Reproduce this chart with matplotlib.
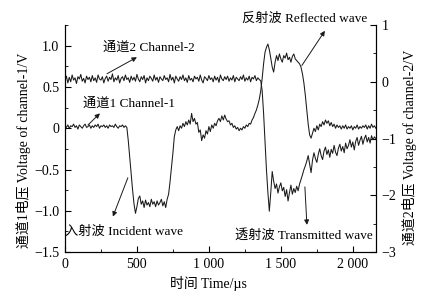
import numpy as np
import matplotlib
matplotlib.use("Agg")
import matplotlib.pyplot as plt
from matplotlib.ticker import MultipleLocator

T_STEP = 10  # us

# channel 1, left axis (V)
ch1 = [
    # 0 - 420 us : baseline
    0.03, 0.01, 0.04, 0.00, 0.03, 0.02, 0.05, 0.01, 0.03, -0.01,
    0.04, 0.02, 0.00, 0.03, 0.05, 0.01, 0.02, 0.04, 0.00, 0.03,
    0.01, 0.04, 0.02, 0.05, 0.00, 0.03, 0.02, 0.04, 0.01, 0.03,
    0.00, 0.04, 0.02, 0.03, 0.01, 0.05, 0.02, 0.00, 0.03, 0.02,
    0.04, 0.01, 0.03,
    # 430 - 490 us : incident front
    0.01, -0.15, -0.35, -0.55, -0.75, -0.92, -1.03,
    # 500 - 720 us : incident plateau
    -0.95, -0.85, -0.82, -0.92, -0.88, -0.96, -0.87, -0.93, -0.90, -0.95,
    -0.86, -0.92, -0.89, -0.95, -0.88, -0.93, -0.90, -0.86, -0.94, -0.89,
    -0.96, -0.86, -0.80,
    # 730 - 770 us
    -0.65, -0.48, -0.30, -0.10, -0.02,
    # 780 - 1360 us
    0.02, -0.03, 0.03, 0.00, 0.06, 0.02, 0.08, 0.04, 0.10, 0.05,
    0.18, 0.08, 0.12, 0.05, 0.07, -0.05, -0.02, -0.15, -0.08, -0.12,
    -0.03, -0.07, 0.02, -0.04, 0.04, 0.00, 0.06, 0.03, 0.09, 0.12,
    0.08, 0.15, 0.10, 0.16, 0.11, 0.08, 0.09, 0.04, 0.06, 0.01,
    0.03, -0.01, 0.01, -0.03, 0.00, -0.02, 0.02, 0.00, 0.04, 0.02,
    0.06, 0.05, 0.10, 0.13, 0.18, 0.22, 0.28, 0.35, 0.45,
    # 1370 - 1690 us : reflected wave
    0.60, 0.78, 0.92, 0.98, 1.02, 0.95, 0.85, 0.74, 0.68, 0.80,
    0.88, 0.82, 0.90, 0.84, 0.80, 0.88, 0.85, 0.91, 0.83, 0.86,
    0.80, 0.87, 0.90, 0.84, 0.82, 0.80, 0.78, 0.74, 0.66, 0.55,
    0.40, 0.22, 0.05,
    # 1700 - 2160 us
    -0.08, -0.12, -0.06, 0.00, -0.04, 0.03, -0.02, 0.05, 0.02, 0.08,
    0.04, 0.10, 0.06, 0.09, 0.03, 0.07, 0.02, 0.05, 0.00, 0.04,
    0.01, 0.03, -0.01, 0.03, 0.00, 0.04, -0.01, 0.02, 0.00, 0.03,
    -0.02, 0.02, 0.00, 0.04, -0.01, 0.02, 0.00, 0.03, 0.01, 0.04,
    -0.01, 0.03, 0.00, 0.05, 0.01, 0.03, 0.00,
]

# channel 2, right axis (V)
ch2 = [
    # 0 - 1360 us : baseline
    0.02, 0.10, -0.02, 0.08, 0.00, 0.12, 0.03, 0.07, -0.03, 0.09,
    0.05, 0.13, 0.01, 0.06, -0.02, 0.10, 0.04, 0.08, 0.00, 0.11,
    0.02, 0.07, -0.01, 0.12, 0.05, 0.03, 0.09, -0.02, 0.06, 0.10,
    0.01, 0.08, 0.04, 0.14, 0.00, 0.07, 0.03, 0.11, -0.02, 0.06,
    0.09, 0.02, 0.12, 0.04, 0.07, -0.01, 0.10, 0.03, 0.08, 0.01,
    0.13, 0.05, 0.00, 0.09, 0.04, 0.11, -0.02, 0.07, 0.02, 0.10,
    0.06, 0.01, 0.12, 0.03, 0.08, -0.01, 0.09, 0.05, 0.02, 0.11,
    0.04, 0.07, 0.00, 0.13, 0.03, 0.08, -0.02, 0.10, 0.05, 0.01,
    0.09, 0.04, 0.12, 0.02, 0.07, -0.01, 0.11, 0.03, 0.06, 0.00,
    0.10, 0.05, 0.08, 0.01, 0.12, 0.03, -0.02, 0.09, 0.06, 0.02,
    0.11, 0.04, 0.07, 0.00, 0.10, 0.03, 0.08, -0.01, 0.12, 0.05,
    0.02, 0.09, 0.04, 0.10, 0.01, 0.07, 0.03, 0.11, 0.00, 0.08,
    0.05, 0.02, 0.09, 0.04, 0.12, 0.01, 0.07, 0.03, 0.10, 0.00,
    0.08, 0.05, 0.11, 0.02, 0.07, 0.04, 0.02,
    # 1370 - 2160 us : transmitted wave
    -0.15, -0.55, -1.05, -1.55, -1.95, -2.28, -1.95, -1.58, -1.75, -1.88,
    -1.80, -1.96, -1.85, -1.78, -1.92, -1.86, -2.02, -1.90, -2.10, -1.95,
    -1.82, -1.98, -1.88, -1.95, -1.84, -1.92, -1.80, -1.72, -1.64, -1.55,
    -1.48, -1.40, -1.30, -1.45, -1.60, -1.38, -1.25, -1.35, -1.42, -1.28,
    -1.18, -1.30, -1.37, -1.22, -1.15, -1.28, -1.20, -1.33, -1.19, -1.26,
    -1.12, -1.24, -1.30, -1.17, -1.10, -1.22, -1.14, -1.25, -1.08, -1.18,
    -1.12, -1.02, -1.15, -1.06, -1.20, -1.05, -0.98, -1.12, -1.03, -0.96,
    -1.10, -1.00, -0.94, -1.06, -0.98, -1.08, -0.95, -1.02, -0.97, -1.00,
]

x_ticks = [0, 500, 1000, 1500, 2000]
x_tick_labels = ["0", "500", "1 000", "1 500", "2 000"]
y1_ticks = [-1.5, -1.0, -0.5, 0, 0.5, 1.0]
y1_tick_labels = ["\u22121.5", "\u22121.0", "\u22120.5", "0", "0.5", "1.0"]
y2_ticks = [-3, -2, -1, 0, 1]
y2_tick_labels = ["\u22123", "\u22122", "\u22121", "0", "1"]

plt.rcParams["font.family"] = ["Liberation Serif", "Noto Sans CJK SC"]
plt.rcParams["font.size"] = 10

t1 = np.arange(len(ch1)) * T_STEP
t2 = np.arange(len(ch2)) * T_STEP

fig = plt.figure(figsize=(4.33, 2.98), dpi=100)
ax = fig.add_axes([0.150, 0.154, 0.718, 0.762])
ax2 = ax.twinx()

ax.plot(t1, ch1, color="#1a1a1a", lw=0.75)
ax2.plot(t2, ch2, color="#1a1a1a", lw=0.75)

ax.set_xlim(0, 2160)
ax.set_ylim(-1.5, 1.25)
ax2.set_ylim(-3, 1)

for a in (ax, ax2):
    a.spines["top"].set_visible(False)
    for s in a.spines.values():
        s.set_linewidth(0.8)

ax.set_xticks(x_ticks)
ax.set_xticklabels(x_tick_labels)
ax.xaxis.set_minor_locator(MultipleLocator(250))
ax.set_yticks(y1_ticks)
ax.set_yticklabels(y1_tick_labels)
ax.yaxis.set_minor_locator(MultipleLocator(0.25))
ax2.set_yticks(y2_ticks)
ax2.set_yticklabels(y2_tick_labels)
ax2.yaxis.set_minor_locator(MultipleLocator(0.5))

ax.tick_params(which="both", direction="in", top=False, right=False,
               labelsize=10, pad=4)
ax.tick_params(which="major", length=4, width=0.8)
ax.tick_params(which="minor", length=2, width=0.6)
ax2.tick_params(which="both", direction="in", labelsize=10, pad=4)
ax2.tick_params(which="major", length=4, width=0.8)
ax2.tick_params(which="minor", length=2, width=0.6)

ax.set_xlabel("时间 Time/µs", fontsize=10)
ax.xaxis.set_label_coords(0.46, -0.105)
ax.set_ylabel("通道1电压 Voltage of channel-1/V", fontsize=10)
ax.yaxis.set_label_coords(-0.108, 0.45)
ax2.set_ylabel("通道2电压 Voltage of channel-2/V", fontsize=10, rotation=90)
ax2.yaxis.set_label_coords(1.083, 0.46)

# ── Annotations ───────────────────────────────────────────────────────────────
arrow = dict(arrowstyle="-|>", color="#1a1a1a", lw=0.7,
             mutation_scale=7, shrinkA=0, shrinkB=0)
ann_fs = 9.5

ax.text(264, 0.98, "通道2 Channel-2", ha="left", va="center", fontsize=ann_fs)
ax.annotate("", xy=(500, 0.86), xytext=(292, 0.66), arrowprops=arrow)

ax.text(125, 0.30, "通道1 Channel-1", ha="left", va="center", fontsize=ann_fs)
ax.annotate("", xy=(243, 0.18), xytext=(160, 0.04), arrowprops=arrow)

ax.text(1229, 1.33, "反射波 Reflected wave", ha="left", va="center",
        fontsize=ann_fs, clip_on=False)
ax.annotate("", xy=(1806, 1.18), xytext=(1646, 0.76), arrowprops=arrow,
            annotation_clip=False)

ax.text(0, -1.25, "入射波 Incident wave", ha="left", va="center",
        fontsize=ann_fs)
ax.annotate("", xy=(333, -1.07), xytext=(437, -0.60), arrowprops=arrow)

ax.text(1180, -1.30, "透射波 Transmitted wave", ha="left", va="center",
        fontsize=ann_fs)
ax.annotate("", xy=(1681, -1.17), xytext=(1667, -0.71), arrowprops=arrow)

fig.savefig("out.png", dpi=100)
